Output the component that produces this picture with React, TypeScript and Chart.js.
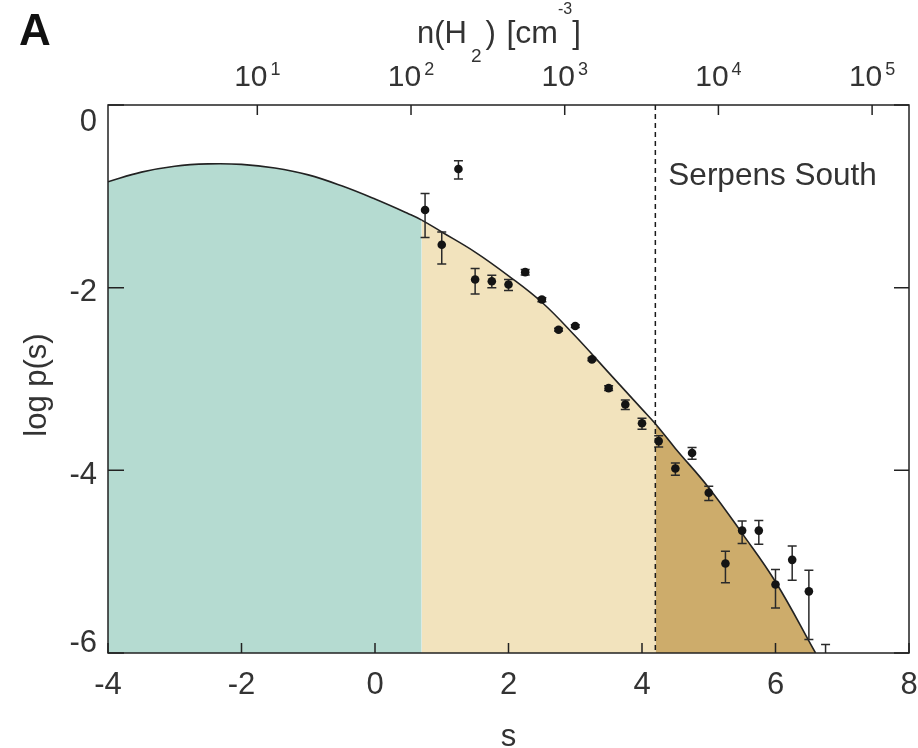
import React, { useEffect, useRef } from "react";
import { Chart, registerables } from "chart.js";

Chart.register(...registerables);

// ---------- data ----------
const curveS = [-4, -3.5, -3, -2.5, -2, -1.5, -1, -0.5, 0, 0.5, 0.7, 1, 1.5, 2, 2.5, 3, 3.5, 4, 4.2, 4.5, 5, 5.5, 6, 6.6];
const curveLogP = [-0.84, -0.735, -0.67, -0.645, -0.65, -0.69, -0.765, -0.885, -1.03, -1.19, -1.26, -1.39, -1.61, -1.87, -2.16, -2.53, -2.93, -3.33, -3.49, -3.76, -4.19, -4.69, -5.22, -6.0];

const pointS = [0.75, 1.0, 1.25, 1.5, 1.75, 2.0, 2.25, 2.5, 2.75, 3.0, 3.25, 3.5, 3.75, 4.0, 4.25, 4.5, 4.75, 5.0, 5.25, 5.5, 5.75, 6.0, 6.25, 6.5, 6.75];
const pointLogP = [-1.15, -1.53, -0.70, -1.91, -1.93, -1.965, -1.83, -2.13, -2.46, -2.42, -2.785, -3.10, -3.28, -3.485, -3.68, -3.98, -3.81, -4.245, -5.02, -4.66, -4.66, -5.25, -4.98, -5.325, -6.35];
const errHigh = [-0.97, -1.39, -0.61, -1.79, -1.865, -1.91, -1.80, -2.11, -2.445, -2.405, -2.77, -3.075, -3.23, -3.43, -3.62, -3.92, -3.75, -4.175, -4.887, -4.555, -4.55, -5.087, -4.828, -5.095, -5.908];
const errLow = [-1.45, -1.74, -0.81, -2.07, -2.0, -2.03, -1.86, -2.155, -2.475, -2.435, -2.80, -3.125, -3.335, -3.55, -3.745, -4.055, -3.88, -4.33, -5.23, -4.80, -4.81, -5.507, -5.204, -5.853, -6.8];

const xTicks = [-4, -2, 0, 2, 4, 6, 8];
const yTicks = [0, -2, -4, -6];
const densityExponents = [1, 2, 3, 4, 5];
const nRef = 58.3; // n(H2) [cm^-3] at s = 0
const lowBoundaryS = 0.7;
const serpensS = 4.2;
const regionLabel = "Serpens South";
const panelLabel = "A";

// ---------- style ----------
const FONT = '"Liberation Sans", Arial, Helvetica, sans-serif';
const TEXT = "#333333";
const FRAME = "#222222";
const TEAL = "#b5dbd1";
const LIGHT_TAN = "#f2e3bd";
const DARK_TAN = "#cdac6b";

const overlay = {
  id: "overlay",
  afterDatasetDraw(chart: any, args: any) {
    if (args.index !== 2) return;
    const { ctx, chartArea: a, scales } = chart;
    const xs = scales.x, ys = scales.y;
    ctx.save();
    ctx.beginPath();
    ctx.rect(a.left, a.top, a.right - a.left, a.bottom - a.top);
    ctx.clip();
    ctx.strokeStyle = "#2a2a2a";
    ctx.lineWidth = 1.5;
    pointS.forEach((s, i) => {
      const x = xs.getPixelForValue(s);
      const y1 = ys.getPixelForValue(errHigh[i]);
      const y2 = ys.getPixelForValue(errLow[i]);
      ctx.beginPath();
      ctx.moveTo(x, y1);
      ctx.lineTo(x, y2);
      ctx.moveTo(x - 4.5, y1);
      ctx.lineTo(x + 4.5, y1);
      ctx.moveTo(x - 4.5, y2);
      ctx.lineTo(x + 4.5, y2);
      ctx.stroke();
    });
    ctx.restore();
  },
  afterDraw(chart: any) {
    const { ctx, chartArea: a, scales } = chart;
    const xs = scales.x, ys = scales.y, xt = scales.xTop;
    ctx.save();
    // frame
    ctx.strokeStyle = FRAME;
    ctx.lineWidth = 1.5;
    ctx.strokeRect(a.left, a.top, a.right - a.left, a.bottom - a.top);
    // inward ticks
    ctx.beginPath();
    xTicks.forEach((v) => {
      const x = xs.getPixelForValue(v);
      ctx.moveTo(x, a.bottom);
      ctx.lineTo(x, a.bottom - 10);
    });
    densityExponents.forEach((k) => {
      const x = xt.getPixelForValue(Math.pow(10, k));
      ctx.moveTo(x, a.top);
      ctx.lineTo(x, a.top + 10);
    });
    yTicks.forEach((v) => {
      const y = ys.getPixelForValue(v);
      ctx.moveTo(a.left, y);
      ctx.lineTo(a.left + 16, y);
      ctx.moveTo(a.right, y);
      ctx.lineTo(a.right - 15, y);
    });
    ctx.stroke();

    ctx.fillStyle = TEXT;
    // y tick labels
    ctx.font = `31px ${FONT}`;
    ctx.textAlign = "right";
    ctx.textBaseline = "middle";
    yTicks.forEach((v) => {
      let y = ys.getPixelForValue(v) + 5;
      y = Math.max(a.top + 17, Math.min(a.bottom - 10, y));
      ctx.fillText(String(v), a.left - 11, y);
    });

    // top axis labels 10^k
    ctx.textAlign = "left";
    ctx.textBaseline = "alphabetic";
    densityExponents.forEach((k) => {
      const x = xt.getPixelForValue(Math.pow(10, k));
      ctx.font = `30px ${FONT}`;
      const w1 = ctx.measureText("10").width;
      ctx.font = `18px ${FONT}`;
      const w2 = ctx.measureText(String(k)).width;
      const start = x - (w1 + 3 + w2) / 2;
      ctx.font = `30px ${FONT}`;
      ctx.fillText("10", start, a.top - 19);
      ctx.font = `18px ${FONT}`;
      ctx.fillText(String(k), start + w1 + 3, a.top - 30);
    });

    // top axis title n(H2) [cm^-3]
    const tx = 417;
    const tb = a.top - 62;
    ctx.font = `31px ${FONT}`;
    ctx.fillText("n(H", tx, tb);
    let cx = tx + ctx.measureText("n(H").width + 4;
    ctx.font = `19px ${FONT}`;
    ctx.fillText("2", cx, tb + 19);
    cx += ctx.measureText("2").width + 4;
    ctx.font = `31px ${FONT}`;
    ctx.fillText(")", cx, tb);
    cx += ctx.measureText(") ").width + 2;
    ctx.font = `32px ${FONT}`;
    ctx.fillText("[cm", cx, tb);
    cx += ctx.measureText("[cm").width;
    ctx.font = `16px ${FONT}`;
    ctx.fillText("-3", cx, tb - 29);
    cx += ctx.measureText("-3").width;
    ctx.font = `31px ${FONT}`;
    ctx.fillText("]", cx, tb);

    // axis titles
    ctx.font = `31px ${FONT}`;
    ctx.textAlign = "center";
    ctx.fillText("s", (a.left + a.right) / 2, 746);
    ctx.save();
    ctx.translate(37, (a.top + a.bottom) / 2 + 6);
    ctx.rotate(-Math.PI / 2);
    ctx.textBaseline = "middle";
    ctx.fillText("log p(s)", 0, 0);
    ctx.restore();

    // region label
    ctx.textAlign = "left";
    ctx.textBaseline = "alphabetic";
    ctx.font = `31.5px ${FONT}`;
    ctx.fillText(regionLabel, xs.getPixelForValue(serpensS) + 13, a.top + 80);

    // panel label
    ctx.fillStyle = "#111111";
    ctx.font = `bold 44px ${FONT}`;
    ctx.fillText(panelLabel, 19, 45);
    ctx.restore();
  },
};

export default function App() {
  const ref = useRef<HTMLCanvasElement | null>(null);
  useEffect(() => {
    document.body.style.margin = "0";
    const canvas = ref.current;
    if (!canvas) return;
    const regionColor = (s: number) =>
      s < lowBoundaryS - 1e-9 ? TEAL : s < serpensS - 1e-9 ? LIGHT_TAN : DARK_TAN;
    const noPad = (s: any) => {
      s.paddingLeft = 0;
      s.paddingRight = 0;
      s.paddingTop = 0;
      s.paddingBottom = 0;
    };
    const chart = new Chart(canvas, {
      type: "line",
      data: {
        datasets: [
          {
            label: "data",
            data: pointS.map((s, i) => ({ x: s, y: pointLogP[i] })),
            showLine: false,
            pointRadius: 4.3,
            pointBackgroundColor: "#141414",
            pointBorderWidth: 0,
            borderWidth: 0,
          },
          {
            label: "boundary",
            data: [
              { x: serpensS, y: 0 },
              { x: serpensS, y: -6 },
            ],
            borderColor: "#1a1a1a",
            borderWidth: 1.5,
            borderDash: [5, 4],
            pointRadius: 0,
            fill: false,
          },
          {
            label: "fit",
            data: curveS.map((s, i) => ({ x: s, y: curveLogP[i] })),
            borderColor: "#222222",
            borderWidth: 1.6,
            pointRadius: 0,
            tension: 0.4,
            fill: { value: -6 },
            backgroundColor: TEAL,
            segment: {
              backgroundColor: (ctx: any) => regionColor(curveS[ctx.p0DataIndex]),
            },
          },
        ],
      },
      options: {
        animation: false,
        responsive: false,
        devicePixelRatio: 1,
        layout: { padding: 0 },
        plugins: { legend: { display: false }, tooltip: { enabled: false } },
        scales: {
          x: {
            type: "linear",
            position: "bottom",
            min: -4,
            max: 8,
            afterBuildTicks: (s: any) => {
              s.ticks = xTicks.map((v) => ({ value: v }));
            },
            ticks: {
              color: TEXT,
              font: { family: FONT, size: 31 },
              padding: 14,
              maxRotation: 0,
              callback: (v: any) => String(v),
            },
            grid: { display: false, drawTicks: false },
            border: { display: false },
            afterFit: (s: any) => {
              s.height = 95;
              noPad(s);
            },
          },
          xTop: {
            type: "logarithmic",
            position: "top",
            min: nRef * Math.exp(-4),
            max: nRef * Math.exp(8),
            ticks: { display: false },
            grid: { display: false, drawTicks: false },
            border: { display: false },
            afterFit: (s: any) => {
              s.height = 105;
              noPad(s);
            },
          },
          y: {
            type: "linear",
            position: "left",
            min: -6,
            max: 0,
            ticks: { display: false },
            grid: { display: false, drawTicks: false },
            border: { display: false },
            afterFit: (s: any) => {
              s.width = 108;
              noPad(s);
            },
          },
          yRight: {
            type: "linear",
            position: "right",
            min: -6,
            max: 0,
            ticks: { display: false },
            grid: { display: false, drawTicks: false },
            border: { display: false },
            afterFit: (s: any) => {
              s.width = 9;
              noPad(s);
            },
          },
        },
      },
      plugins: [overlay],
    } as any);
    return () => chart.destroy();
  }, []);
  return <canvas ref={ref} width={918} height={748} style={{ display: "block" }} />;
}
